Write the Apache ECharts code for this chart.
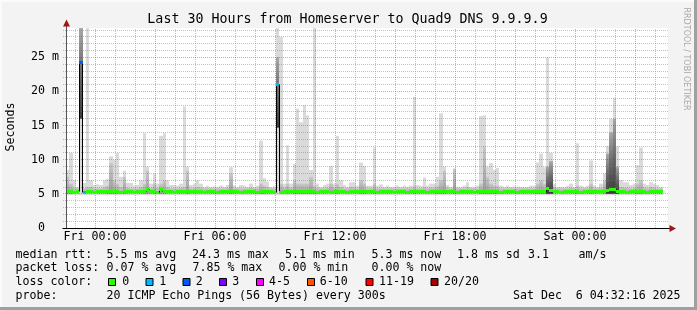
<!DOCTYPE html>
<html><head><meta charset="utf-8">
<script src="https://cdn.jsdelivr.net/npm/echarts@6/dist/echarts.min.js"></script>
<style>html,body{margin:0;padding:0;background:#f3f3f3}#c{width:697px;height:310px}</style>
</head><body><div id="c"></div>
<script>
// ---------------- data ----------------
const chartTitle = 'Last 30 Hours from Homeserver to Quad9 DNS 9.9.9.9';
const yAxisTitle = 'Seconds';
const watermark = 'RRDTOOL / TOBI OETIKER';
const xStart = -1.45;            // hours relative to Fri 00:00
const xEnd = 28.65;
const yMax = 29.3;               // milliseconds
const sampleHours = 1 / 6;       // one smoke sample every 10 minutes
const xTickHours = [0, 6, 12, 18, 24];
const xTickLabels = ['Fri 00:00', 'Fri 06:00', 'Fri 12:00', 'Fri 18:00', 'Sat 00:00'];
const yTickValues = [0, 5, 10, 15, 20, 25];
const yTickLabels = ['0  ', '5 m', '10 m', '15 m', '20 m', '25 m'];
const smokeFloor = 4.8;
const smokeCoreFloor = 5.0;
// light smoke top (ms)
const smokeHi = [
 8.5,11.0,7.0,6.0,29.3,6.6,29.3,7.0,6.3,6.4,
 6.3,7.0,7.2,10.5,10.0,11.0,7.5,8.4,6.6,6.6,
 6.2,6.3,7.0,13.9,9.0,6.5,8.0,6.5,13.5,13.9,
 7.0,6.3,6.3,6.2,6.5,17.8,9.0,6.3,6.5,7.0,
 6.5,6.0,6.2,6.0,6.1,6.0,6.2,6.0,6.3,8.9,
 6.2,6.0,6.3,6.2,6.0,6.5,6.0,6.2,12.8,7.3,
 6.8,6.0,6.1,29.3,28.0,6.5,12.1,6.5,9.4,17.5,
 15.5,18.0,16.5,8.5,29.3,6.5,6.0,6.3,6.5,9.1,
 6.5,13.5,7.0,6.3,6.0,6.7,6.7,6.2,9.6,9.1,
 6.2,6.2,11.8,6.2,6.4,6.0,6.2,6.0,6.0,6.2,
 6.0,6.2,6.0,6.2,19.2,6.3,6.2,7.4,6.2,6.5,
 6.5,7.5,16.8,9.0,6.3,6.0,8.7,6.0,6.0,6.2,
 6.7,6.0,6.0,6.2,16.4,16.5,9.0,9.5,8.5,8.8,
 6.2,6.0,6.2,6.0,6.1,6.0,6.0,6.0,6.0,6.2,
 6.2,9.6,10.9,8.9,25.0,11.0,6.5,6.0,6.0,6.0,
 6.2,6.5,6.0,12.4,6.2,6.0,6.2,9.9,6.2,6.0,
 6.5,8.0,12.0,16.0,19.0,12.0,7.0,6.7,6.7,6.3,
 6.5,9.2,11.8,6.5,6.3,6.7,6.5,6.3,6.0
];
// dense (darker) smoke top (ms)
const smokeMid = [
 7.5,6.5,5.9,5.8,29.3,5.8,6.0,6.0,5.8,5.8,
 5.8,6.0,6.2,9.5,7.0,6.5,6.0,7.5,5.9,5.8,
 5.8,5.8,6.0,6.5,8.4,5.9,6.5,5.9,6.5,7.0,
 6.0,5.8,5.8,5.8,5.9,6.0,8.4,5.8,5.9,6.0,
 5.9,5.8,5.8,5.8,5.8,5.8,5.8,5.8,5.9,8.0,
 5.8,5.8,5.8,5.8,5.8,5.9,5.8,5.8,6.5,6.2,
 6.0,5.8,5.8,25.0,6.5,5.9,6.5,5.9,7.0,6.5,
 6.5,6.5,6.5,7.5,6.2,5.9,5.8,5.8,5.9,6.5,
 5.9,6.5,6.0,5.8,5.8,6.0,6.0,5.8,7.0,6.5,
 5.8,5.8,6.5,5.8,5.8,5.8,5.8,5.8,5.8,5.8,
 5.8,5.8,5.8,5.8,6.2,5.8,5.8,6.0,5.8,5.9,
 5.9,6.2,7.0,8.4,5.9,5.8,8.7,5.8,5.8,5.8,
 6.0,5.8,5.8,5.8,6.5,12.0,7.5,6.5,6.2,6.2,
 5.8,5.8,5.8,5.8,5.8,5.8,5.8,5.8,5.8,5.8,
 5.8,6.5,7.0,6.5,9.0,9.8,6.0,5.8,5.8,5.8,
 5.8,5.9,5.8,6.2,5.8,5.8,5.8,6.5,5.8,5.8,
 5.9,7.0,10.9,14.0,16.0,9.0,6.0,5.9,5.9,5.8,
 5.9,6.5,7.0,5.9,5.8,6.0,5.9,5.8,5.8
];
// samples where the dense smoke starts higher up
const denseIdx = [4, 63];
const denseFrom = [16.0, 14.7];
// samples whose dense smoke is very dark (almost all pings slow)
const heavyIdx = [4, 63, 144, 145, 162, 163, 164, 165];
// median rtt (ms)
const median = [
 5.3,5.3,5.2,5.3,24.3,5.2,5.3,5.3,5.2,5.3,
 5.3,5.3,5.4,5.3,5.3,5.3,5.2,5.3,5.3,5.3,
 5.2,5.3,5.3,5.3,5.6,5.3,5.3,5.2,5.6,5.3,
 5.3,5.3,5.2,5.3,5.3,5.3,5.4,5.3,5.3,5.3,
 5.3,5.2,5.3,5.3,5.3,5.2,5.3,5.3,5.3,5.3,
 5.3,5.3,5.2,5.3,5.3,5.3,5.3,5.2,5.3,5.3,
 5.3,5.3,5.2,21.0,5.2,5.3,5.3,5.3,5.3,5.3,
 5.3,5.3,5.3,5.4,5.3,5.2,5.3,5.3,5.3,5.2,
 5.3,5.3,5.3,5.3,5.2,5.3,5.3,5.3,5.3,5.3,
 5.3,5.3,5.3,5.2,5.3,5.3,5.3,5.3,5.2,5.3,
 5.3,5.3,5.2,5.3,5.3,5.3,5.3,5.3,5.2,5.3,
 5.3,5.3,5.3,5.4,5.3,5.3,5.3,5.2,5.3,5.3,
 5.3,5.3,5.2,5.3,5.3,5.4,5.3,5.3,5.3,5.3,
 5.2,5.3,5.3,5.3,5.3,5.2,5.3,5.3,5.3,5.3,
 5.3,5.3,5.3,5.4,5.8,5.5,5.3,5.3,5.2,5.3,
 5.3,5.3,5.3,5.3,5.2,5.3,5.3,5.3,5.3,5.3,
 5.3,5.3,5.5,5.6,5.6,5.4,5.3,5.3,5.2,5.3,
 5.3,5.3,5.3,5.3,5.2,5.3,5.3,5.3,5.3
];
// samples with packet loss (count of 20)
const lossIdx = [4, 5, 63];
const lossCount = [2, 1, 1];
const lossLegendLabels = ['0', '1', '2', '3', '4-5', '6-10', '11-19', '20/20'];
const lossColors = ['#26ff00', '#00b8ff', '#0059ff', '#7e00ff', '#ff00ff', '#ff5500', '#ff0000', '#a10000'];
const rttStats = ['5.5 ms avg', '24.3 ms max', '5.1 ms min', '5.3 ms now', '1.8 ms sd', '3.1', 'am/s'];
const lossStats = ['0.07 % avg', '7.85 % max', '0.00 % min', '0.00 % now'];
const rowHeads = ['median rtt:', 'packet loss:', 'loss color:', 'probe:'];
const probeText = '20 ICMP Echo Pings (56 Bytes) every 300s';
const stampText = 'Sat Dec  6 04:32:16 2025';

// ---------------- rendering ----------------
const MONO = "'DejaVu Sans Mono', monospace";
const FS = 11.6;
const GRID_MINOR = 'rgba(120,120,120,0.45)';
const GRID_MAJOR = 'rgba(210,30,30,0.42)';
const ARROW = '#a31515';
const sampleStart = k => xStart + k * sampleHours;
function lossColor(n) {
  if (n <= 0) return lossColors[0];
  if (n === 1) return lossColors[1];
  if (n === 2) return lossColors[2];
  if (n === 3) return lossColors[3];
  if (n <= 5) return lossColors[4];
  if (n <= 10) return lossColors[5];
  if (n <= 19) return lossColors[6];
  return lossColors[7];
}
function lossAt(k) { const i = lossIdx.indexOf(k); return i < 0 ? 0 : lossCount[i]; }
function denseLo(k) { const i = denseIdx.indexOf(k); return i < 0 ? smokeCoreFloor : denseFrom[i]; }
const px = v => Math.floor(v) + 0.5;

const smokeData = smokeHi.map((v, k) => [sampleStart(k) + sampleHours / 2, v, k]);
const medianData = median.map((v, k) => [sampleStart(k) + sampleHours / 2, v, k]);

function renderSmoke(params, api) {
  const k = api.value(2);
  const t0 = sampleStart(k), t1 = t0 + sampleHours;
  const a = api.coord([t0, smokeFloor]);
  const b = api.coord([t1, smokeHi[k]]);
  const x0 = Math.round(a[0]), x1 = Math.round(b[0]);
  const lo = denseLo(k);
  const m0 = api.coord([t0, lo]), m1 = api.coord([t0, smokeMid[k]]);
  const tall = smokeMid[k] - lo > 1.2;
  const heavy = heavyIdx.indexOf(k) >= 0;
  let fill = '#bdbdbd';
  if (heavy) fill = {type: 'linear', x: 0, y: 0, x2: 0, y2: 1, colorStops: [
      {offset: 0, color: '#a8a8a8'}, {offset: 0.45, color: '#6e6e6e'}, {offset: 1, color: '#3a3a3a'}]};
  else if (tall) fill = {type: 'linear', x: 0, y: 0, x2: 0, y2: 1, colorStops: [
      {offset: 0, color: '#c8c8c8'}, {offset: 1, color: '#9a9a9a'}]};
  return {type: 'group', children: [
    {type: 'rect', shape: {x: x0, y: b[1], width: x1 - x0, height: a[1] - b[1]}, style: {fill: '#dadada'}},
    {type: 'rect', shape: {x: x0, y: m1[1], width: x1 - x0, height: m0[1] - m1[1]}, style: {fill: fill}}
  ]};
}
function renderGrid(params, api) {
  const children = [];
  const o = api.coord([xStart, 0]), e = api.coord([xEnd, yMax]);
  for (let h = Math.ceil(xStart); h <= xEnd; h++) {
    const x = px(api.coord([h, 0])[0]);
    children.push({type: 'line', shape: {x1: x, y1: o[1], x2: x, y2: e[1]},
      style: {stroke: (h % 3 === 0) ? GRID_MAJOR : GRID_MINOR, lineWidth: 1, lineDash: [1, 1]}});
  }
  for (let m = 1; m <= yMax; m++) {
    const y = px(api.coord([xStart, m])[1]);
    children.push({type: 'line', shape: {x1: o[0] - 3, y1: y, x2: e[0], y2: y},
      style: {stroke: (m % 5 === 0) ? GRID_MAJOR : GRID_MINOR, lineWidth: 1, lineDash: [1, 1]}});
  }
  return {type: 'group', children: children};
}
function renderMedianJoin(params, api) {
  const k = api.value(2);
  if (k + 1 >= median.length) return null;
  const t1 = sampleStart(k + 1);
  const p = api.coord([t1, median[k]]), q = api.coord([t1, median[k + 1]]);
  const x = px(p[0]);
  return {type: 'line', shape: {x1: x, y1: px(p[1]), x2: x, y2: px(q[1])}, style: {stroke: '#000', lineWidth: 1}};
}
function renderMedian(params, api) {
  const k = api.value(2);
  const t0 = sampleStart(k), t1 = t0 + sampleHours;
  const p = api.coord([t0, median[k]]), q = api.coord([t1, median[k]]);
  const y = px(p[1]);
  return {type: 'line', shape: {x1: Math.round(p[0]), y1: y, x2: Math.round(q[0]), y2: y},
    style: {stroke: lossColor(lossAt(k)), lineWidth: 3, lineCap: 'butt'}};
}
function renderAxisDeco(params, api) {
  const o = api.coord([xStart, 0]), top = api.coord([xStart, yMax]), end = api.coord([xEnd, 0]);
  const ax = px(o[0]), ay = px(o[1]);
  return {type: 'group', children: [
    {type: 'line', shape: {x1: ax, y1: ay, x2: ax, y2: top[1] - 3}, style: {stroke: '#555', lineWidth: 1}},
    {type: 'polygon', shape: {points: [[ax, top[1] - 8.5], [ax - 3.5, top[1] - 1.5], [ax + 3.5, top[1] - 1.5]]}, style: {fill: ARROW}},
    {type: 'line', shape: {x1: ax - 4, y1: ay, x2: end[0] + 2, y2: ay}, style: {stroke: '#000', lineWidth: 1}},
    {type: 'polygon', shape: {points: [[end[0] + 8, ay], [end[0] + 1.5, ay - 3.5], [end[0] + 1.5, ay + 3.5]]}, style: {fill: ARROW}}
  ]};
}

function txt(x, y, s, extra) {
  return {type: 'text', x: x, y: y, silent: true, z: 10,
    style: Object.assign({text: s, fontFamily: MONO, fontSize: FS, fill: '#000', align: 'left', verticalAlign: 'middle'}, extra || {})};
}
const rowY = [254.8, 268.3, 282.0, 295.5];
const rttX = [106.5, 192, 285, 371.5, 457, 528, 578.5];
const lossX = [106.5, 192.5, 278.5, 371.5];
const boxX = [108, 145.5, 182.5, 219, 256, 307, 365.5, 430.5];
const labX = [122.3, 159.3, 195.7, 232.3, 269, 319.7, 379, 444];
const graphics = [
  {type: 'rect', z: 0, silent: true, shape: {x: 0, y: 0, width: 697, height: 2}, style: {fill: '#fbfbfb'}},
  {type: 'rect', z: 0, silent: true, shape: {x: 0, y: 0, width: 2, height: 310}, style: {fill: '#fbfbfb'}},
  {type: 'rect', z: 0, silent: true, shape: {x: 694, y: 0, width: 3, height: 310}, style: {fill: '#a0a0a0'}},
  {type: 'rect', z: 0, silent: true, shape: {x: 0, y: 307, width: 697, height: 3}, style: {fill: '#a0a0a0'}},
  txt(347.5, 19.6, chartTitle, {fontSize: 13.3, align: 'center'}),
  Object.assign(txt(11, 127, yAxisTitle, {align: 'center'}), {rotation: Math.PI / 2}),
  {type: 'text', x: 686.5, y: 59, rotation: -Math.PI / 2, silent: true, z: 10,
    style: {text: watermark, fontFamily: "'DejaVu Sans', sans-serif", fontSize: 8, fill: '#a8a8a8', align: 'center', verticalAlign: 'middle'}}
];
rowHeads.forEach((s, i) => graphics.push(txt(15.5, rowY[i], s)));
rttStats.forEach((s, i) => graphics.push(txt(rttX[i], rowY[0], s)));
lossStats.forEach((s, i) => graphics.push(txt(lossX[i], rowY[1], s)));
lossLegendLabels.forEach((s, i) => {
  graphics.push({type: 'rect', silent: true, z: 10, shape: {x: boxX[i] + 0.5, y: 278.5, width: 7, height: 7},
    style: {fill: lossColors[i], stroke: '#000', lineWidth: 1}});
  graphics.push(txt(labX[i], rowY[2], s));
});
graphics.push(txt(106.5, rowY[3], probeText));
graphics.push(txt(513, rowY[3], stampText));

const chart = echarts.init(document.getElementById('c'), null, {renderer: 'canvas', width: 697, height: 310});
chart.setOption({
  animation: false,
  backgroundColor: '#f3f3f3',
  grid: {left: 66, right: 29, top: 28, bottom: 82, show: true, backgroundColor: '#ffffff', borderWidth: 0},
  xAxis: {
    type: 'value', min: xStart, max: xEnd,
    axisLine: {show: false},
    axisTick: {show: false},
    splitLine: {show: false},
    axisLabel: {customValues: xTickHours, margin: 3, color: '#000', fontFamily: MONO, fontSize: FS,
      formatter: v => xTickLabels[xTickHours.indexOf(v)] || ''}
  },
  yAxis: {
    type: 'value', min: 0, max: yMax,
    axisLine: {show: false},
    axisTick: {show: false},
    splitLine: {show: false},
    axisLabel: {customValues: yTickValues, margin: 7, color: '#000', fontFamily: MONO, fontSize: FS,
      formatter: v => yTickLabels[yTickValues.indexOf(v)] || ''}
  },
  series: [
    {type: 'custom', name: 'smoke', data: smokeData, encode: {x: 0, y: 1}, renderItem: renderSmoke, z: 2, silent: true, clip: true},
    {type: 'custom', name: 'grid', data: [[xStart, 0]], encode: {x: 0, y: 1}, renderItem: renderGrid, z: 3, silent: true, clip: false},
    {type: 'custom', name: 'medianJoin', data: medianData, encode: {x: 0, y: 1}, renderItem: renderMedianJoin, z: 4, silent: true},
    {type: 'custom', name: 'median', data: medianData, encode: {x: 0, y: 1}, renderItem: renderMedian, z: 5, silent: true},
    {type: 'custom', name: 'axes', data: [[xStart, 0]], encode: {x: 0, y: 1}, renderItem: renderAxisDeco, z: 6, silent: true, clip: false}
  ],
  graphic: graphics
});
</script></body></html>
